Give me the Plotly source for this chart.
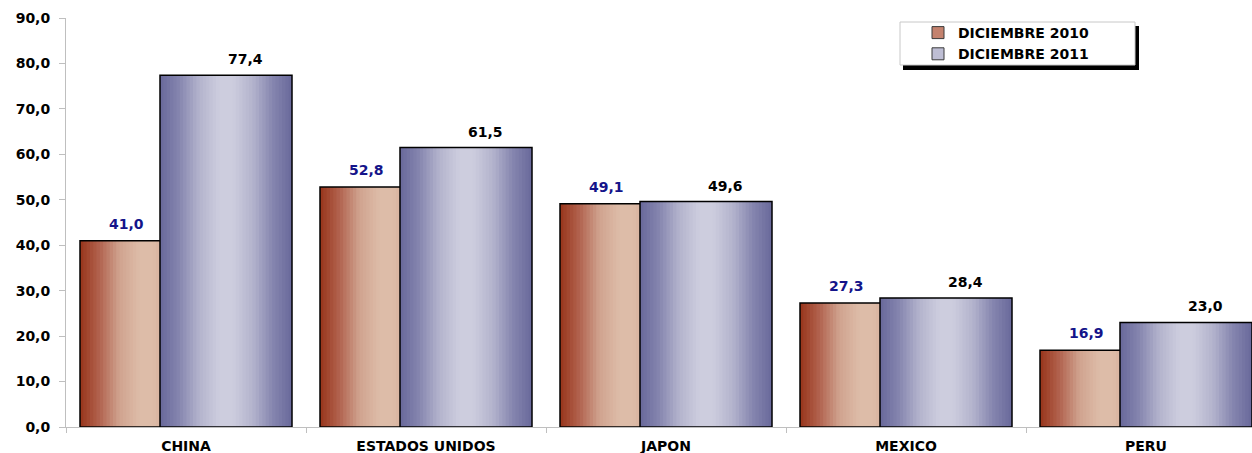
import plotly.graph_objects as go

# ---------------- data ----------------
categories = ["CHINA", "ESTADOS UNIDOS", "JAPON", "MEXICO", "PERU"]
dic_2010 = [41.0, 52.8, 49.1, 27.3, 16.9]
dic_2011 = [77.4, 61.5, 49.6, 28.4, 23.0]
series_names = ["DICIEMBRE 2010", "DICIEMBRE 2011"]
y_ticks = [0, 10, 20, 30, 40, 50, 60, 70, 80, 90]

# ---------------- layout constants ----------------
W, H = 1252, 453
ML, MR, MT, MB = 66, 0, 18, 26
PW = W - ML - MR
PH = H - MT - MB
CAT_PX = 240.0
BAR_W = 132 / CAT_PX
SHIFT = 40 / CAT_PX
N = 40
FONT = "DejaVu Sans"

red_stops = [(0.0, (152, 52, 26)), (0.15, (178, 100, 80)), (0.3, (208, 163, 143)),
             (0.45, (221, 188, 168)), (0.55, (221, 188, 168)), (0.7, (208, 163, 143)),
             (0.85, (178, 100, 80)), (1.0, (152, 52, 26))]
blue_stops = [(0.0, (104, 104, 154)), (0.15, (135, 135, 176)), (0.3, (180, 180, 205)),
              (0.45, (205, 205, 222)), (0.55, (205, 205, 222)), (0.7, (180, 180, 205)),
              (0.85, (135, 135, 176)), (1.0, (104, 104, 154))]


def grad(stops, t):
    for (t0, c0), (t1, c1) in zip(stops[:-1], stops[1:]):
        if t0 <= t <= t1:
            f = 0 if t1 == t0 else (t - t0) / (t1 - t0)
            c = [round(a + (b - a) * f) for a, b in zip(c0, c1)]
            return "rgb(%d,%d,%d)" % tuple(c)
    return "rgb(%d,%d,%d)" % stops[-1][1]


fig = go.Figure()


def add_series(values, name, start, stops, legend_color):
    w = BAR_W / N
    for i in range(N):
        t = (i + 0.5) / N
        fig.add_trace(go.Bar(
            x=categories, y=values, offset=start + i * w, width=BAR_W - i * w,
            marker=dict(color=grad(stops, t), line=dict(width=0)),
            showlegend=False, hoverinfo="skip"))
    fig.add_trace(go.Bar(
        x=categories, y=values, offset=start, width=BAR_W,
        marker=dict(color="rgba(0,0,0,0)", line=dict(color="black", width=1.5)),
        showlegend=False, hoverinfo="skip"))
    fig.add_trace(go.Bar(
        x=[None], y=[None], name=name,
        marker=dict(color=legend_color, line=dict(color="#3a3a3a", width=1))))


add_series(dic_2010, series_names[0], -SHIFT - BAR_W / 2, red_stops, "rgb(196,130,110)")
add_series(dic_2011, series_names[1], SHIFT - BAR_W / 2, blue_stops, "rgb(190,190,212)")


def fmt(v):
    return ("%.1f" % v).replace(".", ",")


annotations = []
for i, v in enumerate(dic_2010):
    annotations.append(dict(x=i - 0.2475, y=v, xref="x", yref="y", text=fmt(v),
                            showarrow=False, yshift=17,
                            font=dict(family=FONT, size=14, color="#14148a", weight="bold")))
for i, v in enumerate(dic_2011):
    annotations.append(dict(x=i + 0.248, y=v, xref="x", yref="y", text=fmt(v),
                            showarrow=False, yshift=16,
                            font=dict(family=FONT, size=14, color="black", weight="bold")))


def px_x(p):
    return (p - ML) / PW


def px_y(p):
    return (H - MB - p) / PH


shapes = [
    dict(type="rect", xref="paper", yref="paper", layer="above",
         x0=px_x(903), x1=px_x(1139), y0=px_y(70), y1=px_y(26),
         fillcolor="black", line=dict(width=0)),
    dict(type="rect", xref="paper", yref="paper", layer="above",
         x0=px_x(900), x1=px_x(1135), y0=px_y(65), y1=px_y(22),
         fillcolor="white", line=dict(color="#c8c8c8", width=1)),
]

fig.update_layout(
    width=W, height=H,
    margin=dict(l=ML, r=MR, t=MT, b=MB, pad=0),
    barmode="overlay",
    plot_bgcolor="white", paper_bgcolor="white",
    separators=",.",
    font=dict(family=FONT, size=12, color="black"),
    showlegend=True,
    legend=dict(x=px_x(918), y=px_y(17), xanchor="left", yanchor="top",
                bgcolor="rgba(0,0,0,0)", borderwidth=0, tracegroupgap=0,
                font=dict(family=FONT, size=14, color="black", weight="bold")),
    annotations=annotations,
    shapes=shapes,
    xaxis=dict(type="category", range=[-0.5, 4.5 - 14 / CAT_PX],
               showline=True, linecolor="#bfbfbf", linewidth=1,
               ticks="outside", tickson="boundaries", ticklen=5, tickcolor="#bfbfbf",
               ticklabelstandoff=6,
               showgrid=False, zeroline=False,
               tickfont=dict(family=FONT, size=14, color="black", weight="bold")),
    yaxis=dict(range=[0, 90], tickvals=y_ticks, tickformat=".1f",
               showline=True, linecolor="#bfbfbf", linewidth=1,
               ticks="outside", ticklen=6, tickcolor="#bfbfbf",
               ticklabelstandoff=6,
               showgrid=False, zeroline=False,
               tickfont=dict(family=FONT, size=14, color="black", weight="bold")),
)

fig.write_html(
    "out.html",
    config={"displayModeBar": False},
    post_script="document.body.style.margin='0';document.body.style.overflow='hidden';",
)
